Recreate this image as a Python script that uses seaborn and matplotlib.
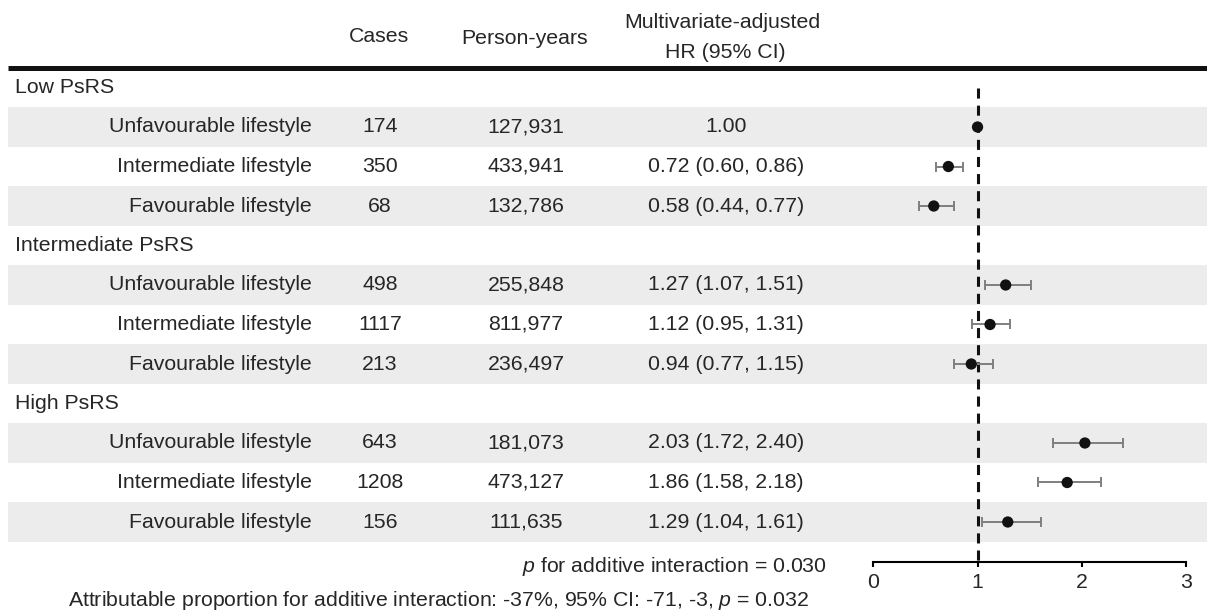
import numpy as np
import pandas as pd
import matplotlib
matplotlib.use("Agg")
import matplotlib.pyplot as plt
import seaborn as sns

# -------------------- data ---------------------------------------------------
groups = ["Low PsRS", "Intermediate PsRS", "High PsRS"]
lifestyles = ["Unfavourable lifestyle", "Intermediate lifestyle", "Favourable lifestyle"]
cases = [174, 350, 68, 498, 1117, 213, 643, 1208, 156]
person_years = [127931, 433941, 132786, 255848, 811977, 236497, 181073, 473127, 111635]
hr = [1.00, 0.72, 0.58, 1.27, 1.12, 0.94, 2.03, 1.86, 1.29]
hr_lo = [np.nan, 0.60, 0.44, 1.07, 0.95, 0.77, 1.72, 1.58, 1.04]
hr_hi = [np.nan, 0.86, 0.77, 1.51, 1.31, 1.15, 2.40, 2.18, 1.61]
x_ticks = [0, 1, 2, 3]
p_interaction = "$p$ for additive interaction = 0.030"
ap_text = "Attributable proportion for additive interaction: -37%, 95% CI: -71, -3, $p$ = 0.032"

# -------------------- layout -------------------------------------------------
W, H = 1207, 613
ROW0, STEP = 87.5, 39.5          # pixel centre of first row, row height
FS = 15.3
BAND = "#ebeceb"

sns.set_theme(style="white")
plt.rcParams["font.family"] = ["Liberation Sans", "DejaVu Sans"]
plt.rcParams["mathtext.fontset"] = "custom"
plt.rcParams["mathtext.rm"] = "Liberation Sans"
plt.rcParams["mathtext.it"] = "Liberation Sans:italic"

rows = []
r = 0
for g in range(len(groups)):
    rows.append(("group", groups[g], r, None))
    r += 1
    for k in range(len(lifestyles)):
        rows.append(("item", lifestyles[k], r, g * 3 + k))
        r += 1

df = pd.DataFrame({
    "row": [x[2] for x in rows if x[0] == "item"],
    "label": [x[1] for x in rows if x[0] == "item"],
    "cases": cases,
    "py": person_years,
    "hr": hr,
    "lo": hr_lo,
    "hi": hr_hi,
})

fig = plt.figure(figsize=(W / 100, H / 100), dpi=100)

# table axes in pixel x / row y
bg = fig.add_axes([0, 0, 1, 1])
bg.set_xlim(0, W)
bg.set_ylim((H - ROW0) / STEP, -ROW0 / STEP)
bg.axis("off")

def prow(py):
    return (py - ROW0) / STEP

# shaded rows (unfavourable / favourable)
for rr in df["row"]:
    if (rr % 4) in (1, 3):
        bg.axhspan(rr - 0.5, rr + 0.5, xmin=8 / W, xmax=1, color=BAND, lw=0, zorder=0)

# header
bg.text(379, prow(37), "Cases", ha="center", va="center", fontsize=FS)
bg.text(525, prow(38), "Person-years", ha="center", va="center", fontsize=FS)
bg.text(722, prow(23), "Multivariate-adjusted", ha="center", va="center", fontsize=FS)
bg.text(725, prow(52), "HR (95% CI)", ha="center", va="center", fontsize=FS)
bg.hlines(-0.5, 8, W, color="#111111", lw=3.6)

for kind, label, rr, idx in rows:
    if kind == "group":
        bg.text(15, rr, label, ha="left", va="center", fontsize=FS)
    else:
        bg.text(312, rr, label, ha="right", va="center", fontsize=FS)
        bg.text(380, rr, str(cases[idx]), ha="center", va="center", fontsize=FS)
        bg.text(526, rr, f"{person_years[idx]:,}", ha="center", va="center", fontsize=FS)
        if np.isnan(hr_lo[idx]):
            s = f"{hr[idx]:.2f}"
        else:
            s = f"{hr[idx]:.2f} ({hr_lo[idx]:.2f}, {hr_hi[idx]:.2f})"
        bg.text(726, rr, s, ha="center", va="center", fontsize=FS)

bg.text(827, prow(566), p_interaction, ha="right", va="center", fontsize=FS)
bg.text(68, prow(601), ap_text, ha="left", va="center", fontsize=FS)

# forest axes
x0, x3 = 873.3, 1186
top_px, bot_px = ROW0 - 0.5 * STEP, ROW0 + 12 * STEP
fa = fig.add_axes([x0 / W, 1 - bot_px / H, (x3 - x0) / W, (bot_px - top_px) / H])
fa.patch.set_alpha(0)

fa.plot([1, 1], [0, 12], color="#111111", lw=2.2, linestyle=(0, (3.3, 2.3)), zorder=1)

ci = df.dropna()
fa.errorbar(ci["hr"], ci["row"], xerr=[ci["hr"] - ci["lo"], ci["hi"] - ci["hr"]],
            fmt="none", ecolor="#7f7f7f", elinewidth=1.4, capsize=3.3, capthick=1.4,
            zorder=2, clip_on=False)
sns.scatterplot(data=df, x="hr", y="row", color="#111111", s=66, edgecolor="none",
                ax=fa, zorder=3, legend=False, clip_on=False)

fa.set_xlim(0, 3)
fa.set_ylim(12, -0.5)
fa.set_xticks(x_ticks)
fa.set_xticklabels([str(t) for t in x_ticks])
fa.set_yticks([])
fa.set_xlabel("")
fa.set_ylabel("")
for sp in ["top", "left", "right"]:
    fa.spines[sp].set_visible(False)
fa.spines["bottom"].set_color("black")
fa.spines["bottom"].set_linewidth(1.5)
fa.tick_params(axis="x", direction="out", length=3.5, width=1.5, color="black",
               labelsize=FS, pad=5, bottom=True)

fig.savefig("out.png", dpi=100)
